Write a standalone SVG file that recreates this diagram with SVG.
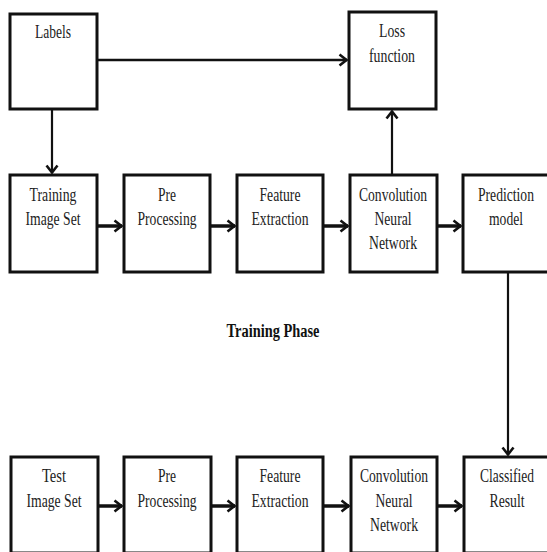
<svg xmlns="http://www.w3.org/2000/svg" width="547" height="552" viewBox="0 0 547 552">
<style>
.box{fill:#fff;stroke:#111;stroke-width:3}
.t{font-family:"Liberation Serif","Times New Roman",serif;font-size:18.5px;fill:#222;text-anchor:middle}
.b{font-family:"Liberation Serif","Times New Roman",serif;font-size:18.5px;font-weight:bold;fill:#111;text-anchor:middle}
.c{fill:none;stroke:#111}
</style>
<defs>
<marker id="ah" viewBox="0 0 10 14" refX="9" refY="7" markerWidth="10" markerHeight="14" markerUnits="userSpaceOnUse" orient="auto">
<path d="M1.5,1.5 L8.5,7 L1.5,12.5" fill="none" stroke="#111" stroke-width="2.6"/>
</marker>
</defs>
<rect width="547" height="552" fill="#fff"/>
<g id="connectors">
<path class="c" d="M97,60 H347" stroke-width="2.6" marker-end="url(#ah)"/>
<path class="c" d="M52,109 V173" stroke-width="2.2" marker-end="url(#ah)"/>
<path class="c" d="M392,175 V111" stroke-width="2.2" marker-end="url(#ah)"/>
<path class="c" d="M508,272 V455" stroke-width="2.2" marker-end="url(#ah)"/>
<path class="c" d="M97,226 H122" stroke-width="3.5" marker-end="url(#ah)"/>
<path class="c" d="M210,226 H235" stroke-width="3.5" marker-end="url(#ah)"/>
<path class="c" d="M323,226 H348" stroke-width="3.5" marker-end="url(#ah)"/>
<path class="c" d="M437,226 H461" stroke-width="3.5" marker-end="url(#ah)"/>
<path class="c" d="M98,506 H122" stroke-width="3.5" marker-end="url(#ah)"/>
<path class="c" d="M211,506 H235" stroke-width="3.5" marker-end="url(#ah)"/>
<path class="c" d="M323,506 H349" stroke-width="3.5" marker-end="url(#ah)"/>
<path class="c" d="M437,506 H462" stroke-width="3.5" marker-end="url(#ah)"/>
</g>
<g id="labels">
<rect class="box" x="10" y="14" width="87" height="95"/>
<text class="t" x="53" y="38" textLength="36" lengthAdjust="spacingAndGlyphs">Labels</text>
</g>
<g id="loss">
<rect class="box" x="349" y="12" width="87" height="97"/>
<text class="t" x="392" y="37" textLength="26" lengthAdjust="spacingAndGlyphs">Loss</text>
<text class="t" x="392" y="62" textLength="46" lengthAdjust="spacingAndGlyphs">function</text>
</g>
<g id="train-set">
<rect class="box" x="10" y="175" width="87" height="97"/>
<text class="t" x="53" y="201" textLength="47" lengthAdjust="spacingAndGlyphs">Training</text>
<text class="t" x="53" y="225" textLength="55" lengthAdjust="spacingAndGlyphs">Image Set</text>
</g>
<g id="train-pre">
<rect class="box" x="124" y="175" width="86" height="97"/>
<text class="t" x="167" y="201" textLength="18" lengthAdjust="spacingAndGlyphs">Pre</text>
<text class="t" x="167" y="225" textLength="59" lengthAdjust="spacingAndGlyphs">Processing</text>
</g>
<g id="train-feat">
<rect class="box" x="237" y="175" width="86" height="97"/>
<text class="t" x="280" y="201" textLength="41" lengthAdjust="spacingAndGlyphs">Feature</text>
<text class="t" x="280" y="225" textLength="57" lengthAdjust="spacingAndGlyphs">Extraction</text>
</g>
<g id="train-cnn">
<rect class="box" x="350" y="175" width="87" height="97"/>
<text class="t" x="393" y="201" textLength="68" lengthAdjust="spacingAndGlyphs">Convolution</text>
<text class="t" x="393" y="225" textLength="37" lengthAdjust="spacingAndGlyphs">Neural</text>
<text class="t" x="393" y="249" textLength="48" lengthAdjust="spacingAndGlyphs">Network</text>
</g>
<g id="prediction">
<rect class="box" x="463" y="175" width="87" height="97"/>
<text class="t" x="506" y="201" textLength="56" lengthAdjust="spacingAndGlyphs">Prediction</text>
<text class="t" x="506" y="225" textLength="34" lengthAdjust="spacingAndGlyphs">model</text>
</g>
<g id="phase">
<text class="b" x="273" y="337" textLength="93" lengthAdjust="spacingAndGlyphs">Training Phase</text>
</g>
<g id="test-set">
<rect class="box" x="11" y="457" width="87" height="96"/>
<text class="t" x="54" y="482" textLength="24" lengthAdjust="spacingAndGlyphs">Test</text>
<text class="t" x="54" y="507" textLength="55" lengthAdjust="spacingAndGlyphs">Image Set</text>
</g>
<g id="test-pre">
<rect class="box" x="124" y="457" width="87" height="96"/>
<text class="t" x="167" y="482" textLength="18" lengthAdjust="spacingAndGlyphs">Pre</text>
<text class="t" x="167" y="507" textLength="59" lengthAdjust="spacingAndGlyphs">Processing</text>
</g>
<g id="test-feat">
<rect class="box" x="237" y="457" width="86" height="96"/>
<text class="t" x="280" y="482" textLength="41" lengthAdjust="spacingAndGlyphs">Feature</text>
<text class="t" x="280" y="507" textLength="57" lengthAdjust="spacingAndGlyphs">Extraction</text>
</g>
<g id="test-cnn">
<rect class="box" x="351" y="457" width="86" height="96"/>
<text class="t" x="394" y="482" textLength="68" lengthAdjust="spacingAndGlyphs">Convolution</text>
<text class="t" x="394" y="507" textLength="37" lengthAdjust="spacingAndGlyphs">Neural</text>
<text class="t" x="394" y="531" textLength="48" lengthAdjust="spacingAndGlyphs">Network</text>
</g>
<g id="classified">
<rect class="box" x="464" y="457" width="87" height="96"/>
<text class="t" x="507" y="482" textLength="54" lengthAdjust="spacingAndGlyphs">Classified</text>
<text class="t" x="507" y="507" textLength="35" lengthAdjust="spacingAndGlyphs">Result</text>
</g>
</svg>
